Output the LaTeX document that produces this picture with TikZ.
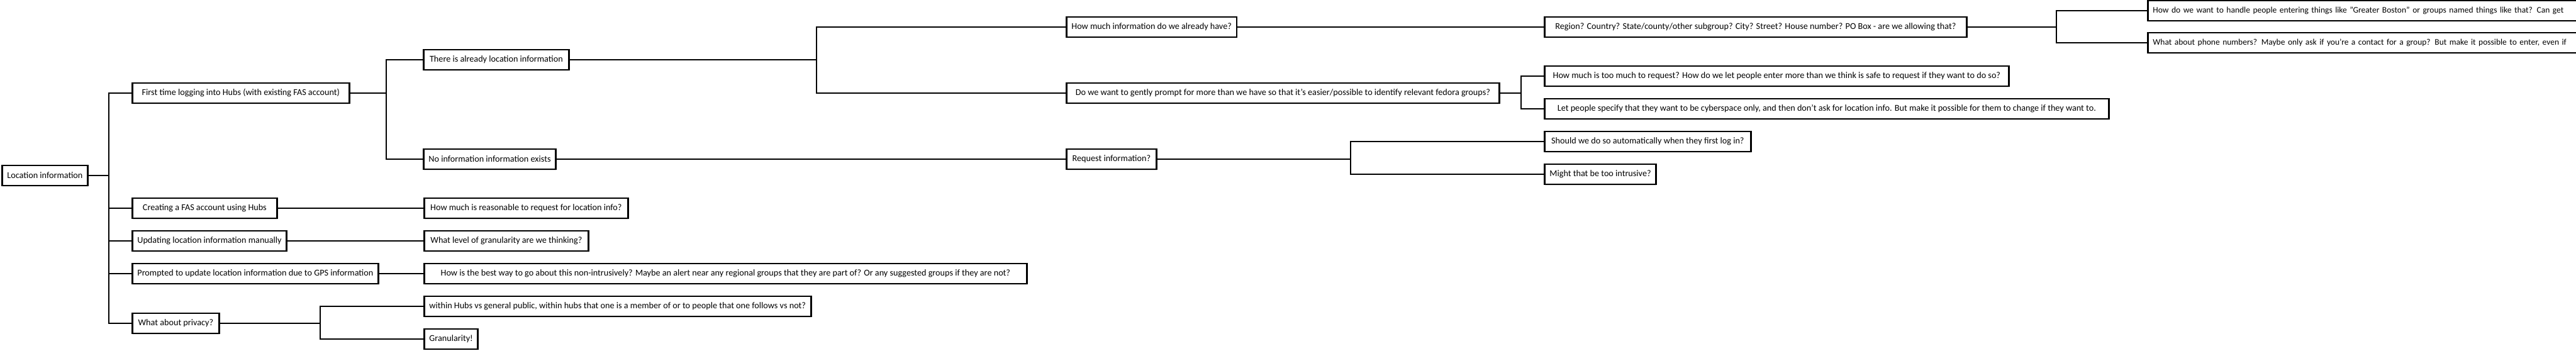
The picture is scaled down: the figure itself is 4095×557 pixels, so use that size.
\documentclass[tikz,border=0pt]{standalone}
\usepackage{fontspec}
\setmainfont{Carlito}
\usetikzlibrary{shadows}

\begin{document}
\begin{tikzpicture}[x=0.5pt, y=-0.5pt,
    idea/.style={draw, line width=1.4pt, fill=white, anchor=west,
        minimum height=16pt, inner xsep=4pt, inner ysep=0pt,
        font=\fontsize{7.1}{8.5}\selectfont,
        drop shadow={shadow xshift=0.4pt, shadow yshift=-0.9pt, opacity=0.2}},
    cutoff/.style={idea, text width=520pt, align=left,
        font=\fontsize{6.75}{8.5}\selectfont},
    link/.style={line width=1.1pt}]
    \useasboundingbox[fill=white] (0,0) rectangle (4095,557);

    % root and first level
    \node[idea, minimum width=67pt] (loc) at (2,279) {Location information};
    \node[idea, minimum width=172.5pt] (first) at (209,148) {First time logging into Hubs (with existing FAS account)};
    \node[idea, minimum width=115pt] (creating) at (209,331) {Creating a FAS account using Hubs};
    \node[idea, minimum width=122pt] (updating) at (209,383) {Updating location information manually};
    \node[idea, minimum width=195.5pt] (prompted) at (209,435) {Prompted to update location information due to GPS information};
    \node[idea, minimum width=69pt] (privacy) at (209,514) {What about privacy?};

    % second level
    \node[idea, minimum width=115.5pt] (there) at (672,95) {There is already location information};
    \node[idea, minimum width=105pt] (noinfo) at (672,253) {No information information exists};
    \node[idea, minimum width=162pt] (reasonable) at (673,331) {How much is reasonable to request for location info?};
    \node[idea, minimum width=130.5pt] (level) at (673,383) {What level of granularity are we thinking?};
    \node[idea, minimum width=479pt] (bestway) at (673,435) {How is the best way to go about this non-intrusively? Maybe an alert near any regional groups that they are part of? Or any suggested groups if they are not?};
    \node[idea, minimum width=305pt] (within) at (673,487) {within Hubs vs general public, within hubs that one is a member of or to people that one follows vs not?};
    \node[idea, minimum width=42.5pt] (granular) at (673,539) {Granularity!};

    % third level
    \node[idea, minimum width=134.5pt] (howmuch) at (1694,43) {How much information do we already have?};
    \node[idea, minimum width=344pt] (gently) at (1694,148) {Do we want to gently prompt for more than we have so that it's easier/possible to identify relevant fedora groups?};
    \node[idea, minimum width=71.5pt] (request) at (1694,253) {Request information?};

    % fourth level
    \node[idea, minimum width=335.5pt] (region) at (2454,43) {Region? Country? State/county/other subgroup? City? Street? House number? PO Box - are we allowing that?};
    \node[idea, minimum width=369pt] (toomuch) at (2454,121) {How much is too much to request? How do we let people enter more than we think is safe to request if they want to do so?};
    \node[idea, minimum width=448.5pt] (cyber) at (2454,173) {Let people specify that they want to be cyberspace only, and then don't ask for location info. But make it possible for them to change if they want to.};
    \node[idea, minimum width=164pt] (automatic) at (2454,225) {Should we do so automatically when they first log in?};
    \node[idea, minimum width=79pt] (intrusive) at (2454,277) {Might that be too intrusive?};

    % fifth level, running off the page
    \node[cutoff] (boston) at (3413,17) {How do we want to handle people entering things like "Greater Boston" or groups named things like that? Can get};
    \node[cutoff] (phone) at (3413,68) {What about phone numbers? Maybe only ask if you're a contact for a group? But make it possible to enter, even if};

    % bracket columns
    \coordinate (kLoc) at (173,0);
    \coordinate (kFirst) at (614,0);
    \coordinate (kThere) at (1298,0);
    \coordinate (kPrivacy) at (509,0);
    \coordinate (kGently) at (2418,0);
    \coordinate (kRequest) at (2147,0);
    \coordinate (kRegion) at (3269,0);

    \draw[link] (loc.east) -- (loc.east -| kLoc);
    \foreach \c in {first,creating,updating,prompted,privacy}
        \draw[link] (loc.east -| kLoc) |- (\c.west);
    \draw[link] (first.east) -- (first.east -| kFirst);
    \foreach \c in {there,noinfo}
        \draw[link] (first.east -| kFirst) |- (\c.west);
    \draw[link] (there.east) -- (there.east -| kThere);
    \foreach \c in {howmuch,gently}
        \draw[link] (there.east -| kThere) |- (\c.west);
    \draw[link] (privacy.east) -- (privacy.east -| kPrivacy);
    \foreach \c in {within,granular}
        \draw[link] (privacy.east -| kPrivacy) |- (\c.west);
    \draw[link] (gently.east) -- (gently.east -| kGently);
    \foreach \c in {toomuch,cyber}
        \draw[link] (gently.east -| kGently) |- (\c.west);
    \draw[link] (request.east) -- (request.east -| kRequest);
    \foreach \c in {automatic,intrusive}
        \draw[link] (request.east -| kRequest) |- (\c.west);
    \draw[link] (region.east) -- (region.east -| kRegion);
    \foreach \c in {boston,phone}
        \draw[link] (region.east -| kRegion) |- (\c.west);

    % straight links
    \draw[link] (noinfo) -- (request);
    \draw[link] (howmuch) -- (region);
    \draw[link] (creating) -- (reasonable);
    \draw[link] (updating) -- (level);
    \draw[link] (prompted) -- (bestway);
\end{tikzpicture}
\end{document}
